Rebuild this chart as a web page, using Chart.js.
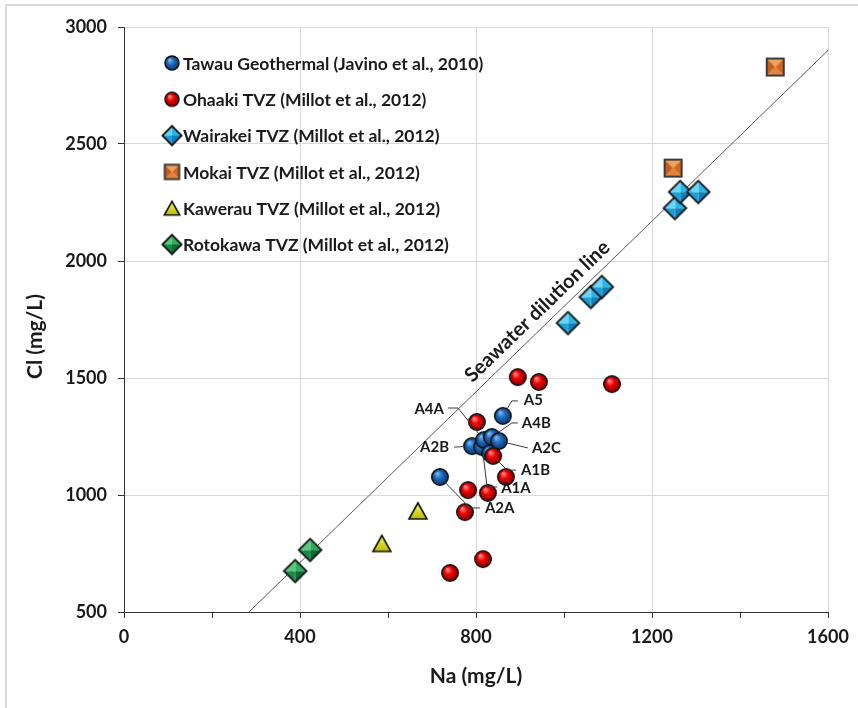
<!DOCTYPE html>
<html><head><meta charset="utf-8">
<script src="https://cdn.jsdelivr.net/npm/chart.js@4.4.1/dist/chart.umd.min.js"></script>
<style>html,body{margin:0;padding:0;background:#fff;overflow:hidden}canvas{display:block}</style>
</head><body>
<canvas id="c" width="858" height="708"></canvas>
<script>
// ---------- DATA ----------
const seriesNames = [
  'Tawau Geothermal (Javino et al., 2010)',
  'Ohaaki TVZ (Millot et al., 2012)',
  'Wairakei TVZ (Millot et al., 2012)',
  'Mokai TVZ (Millot et al., 2012)',
  'Kawerau TVZ (Millot et al., 2012)',
  'Rotokawa TVZ (Millot et al., 2012)'
];
const tawauLabels = ['A2A','A5','A2B','A1A','A4A','A1B','A4B','A2C'];
const tawauNa = [718, 861, 791, 814, 818, 832, 836, 852];
const tawauCl = [1077, 1338, 1209, 1205, 1235, 1179, 1248, 1231];
const ohaakiNa = [895, 943, 1109, 802, 839, 868, 782, 827, 775, 741, 816];
const ohaakiCl = [1504, 1483, 1474, 1312, 1167, 1077, 1021, 1009, 927, 667, 726];
const wairakeiNa = [1009, 1061, 1086, 1252, 1264, 1305];
const wairakeiCl = [1735, 1846, 1889, 2226, 2295, 2295];
const mokaiNa = [1248, 1480];
const mokaiCl = [2397, 2829];
const kawerauNa = [586, 668];
const kawerauCl = [793, 932];
const rotokawaNa = [389, 423];
const rotokawaCl = [675, 765];
const seawaterNa = [284, 1600];
const seawaterCl = [500, 2900];
const seawaterLabel = 'Seawater dilution line';
const xTicks = [0, 400, 800, 1200, 1600];
const yTicks = [500, 1000, 1500, 2000, 2500, 3000];
const xTitle = 'Na (mg/L)';
const yTitle = 'Cl (mg/L)';

// ---------- STYLE / LAYOUT ----------
const FONT = 'Lato, "Open Sans", sans-serif';
const TEXT = '#1a1a1a';
const tawauLabelLayout = {
  A2A:{path:[[30,31],[40,31]], text:[45,31], align:'left'},
  A5: {path:[[9,-15],[15,-15]], text:[21,-16], align:'left'},
  A4B:{path:[[20,-14],[26,-14]], text:[30,-14], align:'left'},
  A2C:{path:[[29,7]], text:[33,7], align:'left'},
  A2B:{path:[[-18,1]], text:[-23,1], align:'right'},
  A4A:{path:[[-26,-32],[-36,-32]], text:[-40,-31], align:'right'},
  A1B:{path:[[17,17],[26,17]], text:[31,17], align:'left'},
  A1A:{path:[[5,40],[15,40]], text:[19,41], align:'left'}
};

function zip(a, b){ return a.map((v,i)=>({x:v, y:b[i]})); }

function circleMarker(d, light, base, dark){
  const s = Math.ceil(d + 3);
  const c = document.createElement('canvas'); c.width = c.height = s;
  const g = c.getContext('2d');
  const cx = s/2, cy = s/2, r = d/2;
  const grad = g.createRadialGradient(cx - r*0.35, cy - r*0.45, r*0.05, cx, cy, r);
  grad.addColorStop(0, light); grad.addColorStop(0.45, base); grad.addColorStop(1, dark);
  g.beginPath(); g.arc(cx, cy, r, 0, Math.PI*2); g.fillStyle = grad; g.fill();
  g.lineWidth = 1.5; g.strokeStyle = '#111'; g.stroke();
  return c;
}
function pyramidMarker(side, rot, facets, stroke, lw){
  const diag = rot ? side*Math.SQRT2 : side;
  const s = Math.ceil(diag + lw + 2);
  const c = document.createElement('canvas'); c.width = c.height = s;
  const g = c.getContext('2d');
  g.translate(s/2, s/2); if (rot) g.rotate(Math.PI/4);
  const h = side/2;
  const k = [[-h,-h],[h,-h],[h,h],[-h,h]];
  for (let i=0;i<4;i++){
    const a = k[i], b = k[(i+1)%4];
    g.beginPath(); g.moveTo(0,0); g.lineTo(a[0],a[1]); g.lineTo(b[0],b[1]); g.closePath();
    g.fillStyle = facets[i]; g.fill();
  }
  g.lineWidth = lw; g.strokeStyle = stroke; g.strokeRect(-h,-h,side,side);
  return c;
}
function triangleMarker(w, h){
  const s = Math.ceil(Math.max(w,h) + 4);
  const c = document.createElement('canvas'); c.width = c.height = s;
  const g = c.getContext('2d');
  const cx = s/2, cy = s/2;
  const grad = g.createLinearGradient(0, cy-h/2, 0, cy+h/2);
  grad.addColorStop(0, '#f8f850'); grad.addColorStop(1, '#bcbc00');
  g.beginPath(); g.moveTo(cx, cy-h/2); g.lineTo(cx+w/2, cy+h/2); g.lineTo(cx-w/2, cy+h/2); g.closePath();
  g.fillStyle = grad; g.fill(); g.lineWidth = 1.6; g.strokeStyle = '#111'; g.lineJoin='miter'; g.stroke();
  return c;
}
function makeSet(k){
  return [
    circleMarker(16.5*k, '#7fb8ee', '#1f6cc0', '#0a3566'),
    circleMarker(16.5*k, '#ff9090', '#f00000', '#780000'),
    pyramidMarker(16*k, true, ['#2bb6ea','#0e82bb','#1c9fd8','#6ad4f6'], '#111', 1.8),
    pyramidMarker(17*k, false, ['#f3a05c','#cf671f','#e4823a','#c45f1a'], '#3a3a3a', 2),
    triangleMarker(18*k, 16*k),
    pyramidMarker(16*k, true, ['#2fae5c','#0d6b34','#178a45','#58c87e'], '#111', 1.8)
  ];
}
const markers = makeSet(1);
const legendMarkers = makeSet(0.85);

const bgPlugin = {
  id:'bg',
  beforeDraw(chart){
    const g = chart.ctx; g.save();
    g.fillStyle = '#fff'; g.fillRect(0,0,chart.width,chart.height);
    g.strokeStyle = '#d9d9d9'; g.lineWidth = 2;
    g.beginPath(); g.moveTo(6, 712); g.lineTo(6, 5); g.lineTo(870, 5); g.stroke();
    g.restore();
  }
};
const overlayPlugin = {
  id:'overlay',
  afterDraw(chart){
    const g = chart.ctx, ca = chart.chartArea;
    g.save();
    g.translate(35, (ca.top + ca.bottom)/2 + 17); g.rotate(-Math.PI/2);
    g.font = 'bold 21px ' + FONT; g.fillStyle = TEXT; g.textAlign = 'center'; g.textBaseline = 'middle';
    g.fillText(yTitle, 0, 0);
    g.restore();
  },
  afterDatasetsDraw(chart){
    const g = chart.ctx, xs = chart.scales.x, ys = chart.scales.y;
    g.save();
    // seawater label
    const x1 = xs.getPixelForValue(seawaterNa[0]), y1 = ys.getPixelForValue(seawaterCl[0]);
    const x2 = xs.getPixelForValue(seawaterNa[1]), y2 = ys.getPixelForValue(seawaterCl[1]);
    const ang = Math.atan2(y2-y1, x2-x1);
    const t = (963 - seawaterNa[0])/(seawaterNa[1]-seawaterNa[0]);
    const px = x1 + (x2-x1)*t, py = y1 + (y2-y1)*t;
    const nx = Math.sin(ang), ny = -Math.cos(ang);
    g.translate(px + nx*15, py + ny*15); g.rotate(ang);
    g.font = 'bold 20px ' + FONT; g.fillStyle = TEXT; g.textAlign = 'center'; g.textBaseline = 'middle';
    g.fillText(seawaterLabel, 0, 0);
    g.setTransform(1,0,0,1,0,0);
    // tawau labels
    const meta = chart.getDatasetMeta(0);
    g.font = 'bold 15px ' + FONT; g.textBaseline = 'middle';
    g.strokeStyle = '#3a3a3a'; g.lineWidth = 1;
    meta.data.forEach((pt, i) => {
      const L = tawauLabelLayout[tawauLabels[i]]; if (!L) return;
      const f = L.path[0]; const len = Math.hypot(f[0], f[1]);
      g.beginPath();
      g.moveTo(pt.x + f[0]/len*8, pt.y + f[1]/len*8);
      L.path.forEach(p => g.lineTo(pt.x + p[0], pt.y + p[1]));
      g.stroke();
      g.textAlign = L.align;
      g.fillText(tawauLabels[i], pt.x + L.text[0], pt.y + L.text[1]);
    });
    // legend
    g.font = 'bold 17.5px ' + FONT; g.textAlign = 'left';
    seriesNames.forEach((name, i) => {
      const yy = 63 + i*36.3;
      const m = legendMarkers[i];
      g.drawImage(m, 172 - m.width/2, yy - m.width/2);
      g.fillText(name, 183, yy + 1);
    });
    g.restore();
  }
};

const ds = (name, na, cl, i) => ({
  label: name, data: zip(na, cl), pointStyle: markers[i], pointRadius: 8,
  showLine: false, clip: false, order: i === 0 ? 2 : 1
});

new Chart(document.getElementById('c'), {
  type: 'scatter',
  data: { datasets: [
    ds(seriesNames[0], tawauNa, tawauCl, 0),
    ds(seriesNames[1], ohaakiNa, ohaakiCl, 1),
    ds(seriesNames[2], wairakeiNa, wairakeiCl, 2),
    ds(seriesNames[3], mokaiNa, mokaiCl, 3),
    ds(seriesNames[4], kawerauNa, kawerauCl, 4),
    ds(seriesNames[5], rotokawaNa, rotokawaCl, 5),
    { label: seawaterLabel, data: zip(seawaterNa, seawaterCl), showLine: true, pointRadius: 0,
      borderColor: '#5a5a5a', borderWidth: 1, order: 5 }
  ]},
  options: {
    responsive: false, animation: false, events: [],
    layout: { padding: { left: 14, top: 27, right: 30, bottom: 14 } },
    plugins: { legend: { display: false }, tooltip: { enabled: false } },
    scales: {
      x: {
        type: 'linear', min: xTicks[0], max: xTicks[xTicks.length-1],
        ticks: { stepSize: 200, autoSkip: false, maxRotation: 0, padding: 8, color: TEXT,
          font: { family: FONT, size: 18, weight: 'bold' },
          callback: v => xTicks.includes(v) ? String(v) : '' },
        grid: { color: c => (c.tick && xTicks.includes(c.tick.value) && c.tick.value !== xTicks[0]) ? '#d9d9d9' : 'rgba(0,0,0,0)',
          tickColor: '#333', tickLength: 6 },
        border: { color: '#333', width: 1 },
        title: { display: true, text: xTitle, color: TEXT, font: { family: FONT, size: 21, weight: 'bold' }, padding: { top: 0, bottom: 5 } },
        afterFit: s => { s.height = 82; }
      },
      y: {
        type: 'linear', min: yTicks[0], max: yTicks[yTicks.length-1],
        ticks: { stepSize: 500, padding: 11, color: TEXT, font: { family: FONT, size: 18, weight: 'bold' },
          callback: v => yTicks.includes(v) ? String(v) : '' },
        grid: { color: c => (c.tick && c.tick.value !== yTicks[0]) ? '#d9d9d9' : 'rgba(0,0,0,0)',
          tickColor: '#333', tickLength: 6 },
        border: { color: '#333', width: 1 },
        title: { display: false, text: yTitle },
        afterFit: s => { s.width = 110; }
      }
    }
  },
  plugins: [bgPlugin, overlayPlugin]
});
</script>
</body></html>
